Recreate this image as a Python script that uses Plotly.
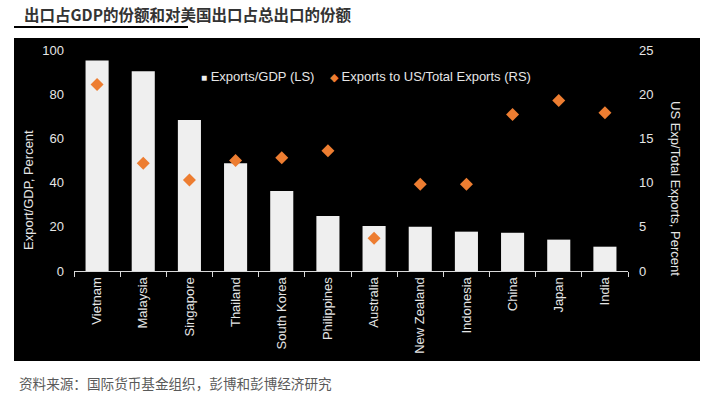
import plotly.graph_objects as go

countries = ["Vietnam", "Malaysia", "Singapore", "Thailand", "South Korea", "Philippines",
             "Australia", "New Zealand", "Indonesia", "China", "Japan", "India"]
exports_gdp = [95.2, 90.4, 68.3, 48.7, 36.2, 24.9, 20.4, 20.0, 17.8, 17.3, 14.2, 11.0]
us_share = [21.1, 12.2, 10.3, 12.5, 12.8, 13.6, 3.7, 9.8, 9.8, 17.7, 19.3, 17.9]
left_ticks = [0, 20, 40, 60, 80, 100]
right_ticks = [0, 5, 10, 15, 20, 25]

W, H = 717, 396
L, R, T, B = 74, 89, 50, 125
pw, ph = W - L - R, H - T - B

def px(x):
    return (x - L) / pw

def py(y):
    return (H - B - y) / ph

TXT = "#e6e6e6"
FONT = "Liberation Sans, Arial, sans-serif"

fig = go.Figure()
fig.add_trace(go.Bar(x=countries, y=exports_gdp, name="Exports/GDP (LS)",
                     marker=dict(color="#efefef", line=dict(width=0)), width=0.5, yaxis="y"))
fig.add_trace(go.Scatter(x=countries, y=us_share, name="Exports to US/Total Exports (RS)",
                         mode="markers", marker=dict(symbol="diamond", size=10, color="#ED7D31"),
                         yaxis="y2"))

fig.update_layout(
    width=W, height=H,
    margin=dict(l=L, r=R, t=T, b=B, pad=0),
    paper_bgcolor="white", plot_bgcolor="black",
    font=dict(family=FONT, size=13, color=TXT),
    showlegend=False,
    xaxis=dict(showgrid=False, showline=True, linecolor="#d9d9d9", linewidth=1,
               ticks="outside", tickson="boundaries", ticklen=5, tickcolor="#d9d9d9",
               tickangle=-90, tickfont=dict(size=13, color=TXT), zeroline=False,
               range=[-0.5, 11.5]),
    yaxis=dict(range=[0, 100], tickvals=left_ticks, showgrid=False, zeroline=False,
               showline=False, ticks="", ticklabelstandoff=9,
               tickfont=dict(size=13, color=TXT)),
    yaxis2=dict(range=[0, 25], tickvals=right_ticks, overlaying="y", side="right",
                showgrid=False, zeroline=False, showline=False, ticks="",
                ticklabelstandoff=10, tickfont=dict(size=13, color=TXT)),
    shapes=[
        dict(type="rect", xref="paper", yref="paper", x0=px(14), x1=px(700),
             y0=py(361), y1=py(38), fillcolor="black", line=dict(width=0), layer="below"),
        dict(type="line", xref="paper", yref="paper", x0=px(14), x1=px(188),
             y0=py(27), y1=py(27), line=dict(color="black", width=2)),
    ],
    annotations=[
        dict(text="<b>出口占GDP的份额和对美国出口占总出口的份额</b>", xref="paper", yref="paper",
             x=px(22), y=py(14), xanchor="left", yanchor="middle", showarrow=False,
             font=dict(family="Noto Sans CJK SC", size=15.5, color="#333333")),
        dict(text="资料来源：国际货币基金组织，彭博和彭博经济研究", xref="paper", yref="paper",
             x=px(17), y=py(383), xanchor="left", yanchor="middle", showarrow=False,
             font=dict(family="Noto Sans CJK SC", size=13.6, color="#595959")),
        dict(text="Export/GDP, Percent", xref="paper", yref="paper", x=px(28), y=py(190),
             xanchor="center", yanchor="middle", textangle=-90, showarrow=False,
             font=dict(size=13, color=TXT)),
        dict(text="US Exp/Total Exports, Percent", xref="paper", yref="paper", x=px(676), y=py(188),
             xanchor="center", yanchor="middle", textangle=90, showarrow=False,
             font=dict(size=13, color=TXT)),
        dict(text="<span style='font-size:10px;color:#efefef'>■</span> Exports/GDP (LS)",
             xref="paper", yref="paper", x=px(199), y=py(76), xanchor="left", yanchor="middle",
             showarrow=False, font=dict(size=13, color=TXT)),
        dict(text="<span style='font-size:11px;color:#ED7D31'>◆</span> Exports to US/Total Exports (RS)",
             xref="paper", yref="paper", x=px(328), y=py(76), xanchor="left", yanchor="middle",
             showarrow=False, font=dict(size=13, color=TXT)),
    ],
)

fig.write_html("out.html", config={"displayModeBar": False},
               post_script="document.body.style.margin='0';")
